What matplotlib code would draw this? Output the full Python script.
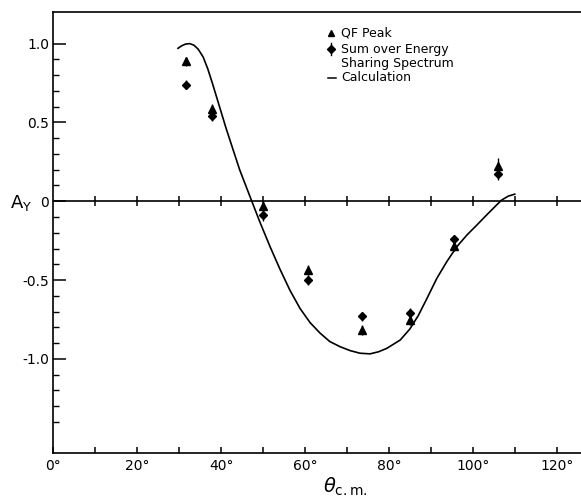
import numpy as np
import matplotlib
matplotlib.use("Agg")
import matplotlib.pyplot as plt

# measured points (theta c.m. in degrees)
theta_pts = [31.5, 37.9, 50.0, 60.8, 73.6, 85.0, 95.4, 105.9]
qf_peak = [0.887, 0.586, -0.03, -0.437, -0.817, -0.756, -0.285, 0.225]
qf_err = [0.03, 0.03, 0.03, 0.03, 0.03, 0.03, 0.03, 0.05]
sum_es = [0.739, 0.54, -0.087, -0.50, -0.73, -0.709, -0.242, 0.172]
sum_err = [0.03, 0.03, 0.04, 0.03, 0.03, 0.03, 0.03, 0.04]

# calculation curve
theta_calc = [29.7, 30.5, 31.5, 32.5, 33.5, 34.5, 35.7, 36.8, 38.0, 41.2, 44.4,
              47.3, 49.2, 51.6, 54.0, 56.4, 58.8, 61.2, 63.6, 65.9, 68.3, 70.7,
              73.1, 75.5, 77.5, 79.5, 82.7, 85.0, 87.0, 89.0, 91.4, 93.8, 96.2,
              98.6, 101.0, 103.3, 105.7, 106.9, 108.5, 110.0]
ay_calc = [0.97, 0.985, 0.997, 1.0, 0.99, 0.965, 0.915, 0.84, 0.74, 0.46, 0.20,
           0.0, -0.13, -0.285, -0.43, -0.565, -0.68, -0.77, -0.837, -0.89, -0.922,
           -0.947, -0.964, -0.968, -0.955, -0.933, -0.88, -0.81, -0.725, -0.62,
           -0.49, -0.383, -0.288, -0.214, -0.15, -0.087, -0.023, 0.008, 0.033,
           0.045]

xticks = np.arange(0, 121, 10)
xlabels = [f"{t}°" if t % 20 == 0 else "" for t in xticks]
yticks = [-1.0, -0.5, 0, 0.5, 1.0]
ylabels = ["-1.0", "-0.5", "0", "0.5", "1.0"]
yminor = [v / 10 for v in range(-15, 11) if v % 5 != 0]

plt.rcParams['font.family'] = ['DejaVu Sans']
fig = plt.figure(figsize=(5.81, 4.99), dpi=100)
ax = fig.add_axes([0.092, 0.0912, 0.908, 0.8846])

ax.plot(theta_calc, ay_calc, color='black', lw=1.2)
ax.errorbar(theta_pts, qf_peak, yerr=qf_err, fmt='^', color='black', ms=6,
            elinewidth=1.0, capsize=0)
ax.errorbar(theta_pts, sum_es, yerr=sum_err, fmt='D', color='black', ms=4.3,
            elinewidth=1.0, capsize=0)

# zero line with its own ticks
ax.axhline(0, color='black', lw=1.2)
ax.plot(xticks[1:], np.zeros(len(xticks) - 1), ls='none', marker='|',
        color='black', ms=7.5, mew=1.1)

ax.set_xlim(0, 125.8)
ax.set_ylim(-1.6, 1.2)
ax.spines['right'].set_visible(False)
for s in ['left', 'top', 'bottom']:
    ax.spines[s].set_linewidth(1.2)

ax.set_xticks(xticks)
ax.set_xticklabels(xlabels, fontsize=10)
ax.set_yticks(yticks)
ax.set_yticklabels(ylabels, fontsize=10)
ax.set_yticks(yminor, minor=True)
ax.tick_params(axis='x', direction='in', length=4.5, width=1.1, pad=4, top=False)
ax.tick_params(axis='y', which='major', direction='in', length=9.5, width=1.1, pad=3)
ax.tick_params(axis='y', which='minor', direction='in', length=4.5, width=1.0)

ax.set_xlabel(r'$\theta_{\rm c.m.}$', fontsize=14)
ax.xaxis.set_label_coords(0.553, -0.05)
ax.set_ylabel(r'$\mathrm{A}_\mathrm{Y}$', fontsize=13, rotation=0, ha='center', va='center')
ax.yaxis.set_label_coords(-0.062, 0.567)

# key in the upper part of the plot
tr = ax.transAxes
ax.plot([0.526], [0.953], marker='^', color='black', ms=5, transform=tr, clip_on=False)
ax.text(0.545, 0.953, 'QF Peak', fontsize=9, va='center', transform=tr)
ax.plot([0.526], [0.916], marker='D', color='black', ms=3.8, transform=tr, clip_on=False)
ax.plot([0.526, 0.526], [0.903, 0.929], color='black', lw=1.0, transform=tr)
ax.text(0.545, 0.916, 'Sum over Energy', fontsize=9, va='center', transform=tr)
ax.text(0.545, 0.884, 'Sharing Spectrum', fontsize=9, va='center', transform=tr)
ax.plot([0.52, 0.535], [0.851, 0.851], color='black', lw=1.1, transform=tr)
ax.text(0.545, 0.851, 'Calculation', fontsize=9, va='center', transform=tr)

plt.savefig('out.png', dpi=100)
